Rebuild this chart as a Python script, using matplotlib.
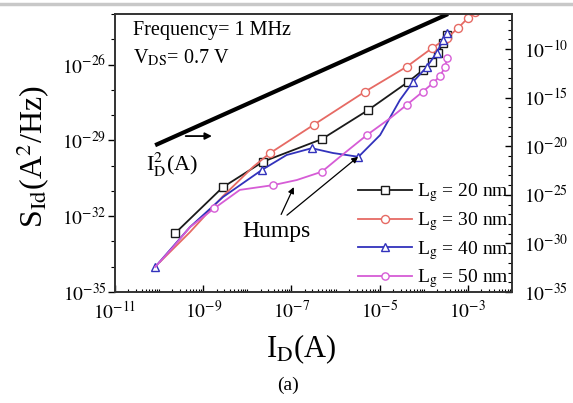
import numpy as np
import matplotlib
matplotlib.use("Agg")
import matplotlib.pyplot as plt
from matplotlib.ticker import FixedLocator, FuncFormatter, NullFormatter
from matplotlib.lines import Line2D

plt.rcParams['font.family'] = ['Liberation Serif', 'DejaVu Serif']
plt.rcParams['mathtext.fontset'] = 'stix'

# ---- data (log10 of values) ----
log_id_20 = [-9.64, -8.56, -7.64, -6.31, -5.26, -4.35, -4.02, -3.82, -3.68, -3.56, -3.48]
log_s_20 = [-32.68, -30.86, -29.84, -28.95, -27.80, -26.68, -26.22, -25.89, -25.54, -25.15, -24.83]

log_id_30 = [-9.98, -9.30, -8.57, -7.87, -7.49, -6.50, -5.33, -4.39, -3.82, -3.48, -3.22, -3.00, -2.84]
log_s_30 = [-33.81, -32.63, -31.24, -30.05, -29.51, -28.39, -27.07, -26.09, -25.36, -24.96, -24.55, -24.16, -23.92]

log_id_40 = [-10.09, -9.30, -8.55, -7.67, -7.11, -6.54, -6.06, -5.48, -4.99, -4.54, -4.24, -3.93, -3.71, -3.56, -3.48]
log_s_40 = [-34.01, -32.43, -31.24, -30.17, -29.58, -29.31, -29.50, -29.65, -28.79, -27.40, -26.68, -26.09, -25.54, -25.03, -24.76]

log_id_50 = [-10.09, -9.68, -9.30, -8.75, -8.17, -7.41, -6.88, -6.31, -5.90, -5.29, -4.76, -4.39, -4.02, -3.79, -3.63, -3.52, -3.47]
log_s_50 = [-34.01, -33.22, -32.43, -31.69, -30.96, -30.77, -30.57, -30.24, -29.65, -28.79, -28.12, -27.60, -27.07, -26.73, -26.45, -26.10, -25.74]

# I_D^2 reference line (right axis)
log_id_sq_x = [-10.09, -3.45]
log_id_sq_y = [-19.9, -6.4]

labels = ["20 nm", "30 nm", "40 nm", "50 nm"]

# ---- figure ----
W, H = 573, 403
fig = plt.figure(figsize=(W / 100, H / 100), dpi=100)
L, R, T, B = 115, 512, 14, 292
ax = fig.add_axes([L / W, 1 - B / H, (R - L) / W, (B - T) / H])
ax.set_xscale('log')
ax.set_yscale('log')
ax.set_xlim(1e-11, 1e-2)
ax.set_ylim(1e-35, 1e-24)

def p(a):
    return 10.0 ** np.array(a)

styles = [
    dict(color='#1a1a1a', marker='s', ms=5.8, markevery=None),
    dict(color='#e66a64', marker='o', ms=5.8, markevery=list(range(4, 13))),
    dict(color='#3232bc', marker='^', ms=5.8, markevery=[0, 3, 5, 7, 10, 11, 12, 13, 14]),
    dict(color='#d65cd6', marker='o', ms=5.2, markevery=[3, 5, 7, 9, 11, 12, 13, 14, 15, 16]),
]
data = [(log_id_20, log_s_20), (log_id_30, log_s_30), (log_id_40, log_s_40), (log_id_50, log_s_50)]
handles = []
for (xs, ys), st, lab in zip(data, styles, labels):
    h, = ax.plot(p(xs), p(ys), color=st['color'], lw=1.3, marker=st['marker'], ms=st['ms'],
                 mfc='white', mec=st['color'], mew=1.0, markevery=st['markevery'],
                 label=r"L$_{\mathrm{g}}$ = " + lab)
    handles.append(h)

def fmt(v, pos=None):
    e = int(round(np.log10(v)))
    return r"$10^{%d}$" % e

ax.xaxis.set_major_locator(FixedLocator(p([-11, -9, -7, -5, -3])))
ax.xaxis.set_major_formatter(FuncFormatter(fmt))
minor_x = []
for e in range(-11, -2):
    for s in range(1, 10):
        if s == 1 and e % 2 != 0:
            continue
        minor_x.append(s * 10.0 ** e)
ax.xaxis.set_minor_locator(FixedLocator(minor_x))
ax.xaxis.set_minor_formatter(NullFormatter())

ax.yaxis.set_major_locator(FixedLocator(p([-35, -32, -29, -26])))
ax.yaxis.set_major_formatter(FuncFormatter(fmt))
ax.yaxis.set_minor_locator(FixedLocator(p([e for e in range(-35, -23) if e not in (-35, -32, -29, -26)])))
ax.yaxis.set_minor_formatter(NullFormatter())

ax.tick_params(axis='x', which='both', direction='in', top=False, labelsize=14, pad=6)
ax.tick_params(axis='x', which='major', length=5, width=1)
ax.tick_params(axis='x', which='minor', length=2.5, width=0.8)
ax.tick_params(axis='y', which='both', direction='out', right=False, labelsize=14, pad=1)
ax.tick_params(axis='y', which='major', length=5, width=1)
ax.tick_params(axis='y', which='minor', length=3, width=0.8)
for s in ax.spines.values():
    s.set_linewidth(1.2)
    s.set_color('#333333')

# right axis
ax2 = ax.twinx()
ax2.set_yscale('log')
ax2.set_ylim(1e-35, 10 ** -6.4)
ax2.plot(p(log_id_sq_x), p(log_id_sq_y), color='black', lw=3.0, solid_capstyle='butt')
ax2.yaxis.set_major_locator(FixedLocator(p([-35, -30, -25, -20, -15, -10])))
ax2.yaxis.set_major_formatter(FuncFormatter(fmt))
ax2.yaxis.set_minor_locator(FixedLocator(p([e for e in range(-35, -6) if e % 5 != 0])))
ax2.yaxis.set_minor_formatter(NullFormatter())
ax2.tick_params(axis='y', which='both', direction='in', labelsize=14, pad=9)
ax2.tick_params(axis='y', which='major', length=5, width=1)
ax2.tick_params(axis='y', which='minor', length=3, width=0.8)
for s in ax2.spines.values():
    s.set_linewidth(1.2)
    s.set_color('#333333')

# axis labels
ax.set_xlabel(r"I$_{\mathrm{D}}$(A)", fontsize=22)
ax.xaxis.set_label_coords((301 - L) / (R - L), (B - 332) / (B - T))
ax.set_ylabel(r"S$_{\mathrm{Id}}$(A$^{2}$/Hz)", fontsize=23)
ax.yaxis.set_label_coords((52 - L) / (R - L), (B - 157) / (B - T))
fig.text(288 / W, 1 - 385 / H, "(a)", ha='center', va='center', fontsize=14)

# annotations
ax.text(10 ** -10.6, 10 ** -24.65, "Frequency= 1 MHz", fontsize=14.5, ha='left', va='center')
ax.text(10 ** -10.6, 10 ** -25.75, r"V$_{\mathrm{DS}}$= 0.7 V", fontsize=14.5, ha='left', va='center')
ax.text(10 ** -9.71, 10 ** -29.98, r"I$_{\mathrm{D}}^{2}$(A)", fontsize=16, ha='center', va='center')
ax.annotate("", xy=(10 ** -8.74, 10 ** -28.83), xytext=(10 ** -9.46, 10 ** -28.83),
            arrowprops=dict(arrowstyle='-|>', color='black', lw=1.3, mutation_scale=10))
ax.text(10 ** -7.33, 10 ** -32.61, "Humps", fontsize=17, ha='center', va='center')
ax.annotate("", xy=(10 ** -6.92, 10 ** -30.75), xytext=(10 ** -7.26, 10 ** -32.03),
            arrowprops=dict(arrowstyle='-|>', color='black', lw=0.9, mutation_scale=9))
ax.annotate("", xy=(10 ** -5.44, 10 ** -29.58), xytext=(10 ** -7.15, 10 ** -32.03),
            arrowprops=dict(arrowstyle='-|>', color='black', lw=0.9, mutation_scale=9))

leg = ax.legend(handles=handles, loc='lower right', bbox_to_anchor=(1.0, -0.005), frameon=False,
                fontsize=14, handlelength=2.8, handletextpad=0.25, labelspacing=0.3,
                borderpad=0.0, borderaxespad=0.15)

# grey border line at the very top of the picture
fig.add_artist(Line2D([0, 1], [1 - 4 / H, 1 - 4 / H], color='#c8c8c8', lw=2.5))

fig.savefig("out.png", dpi=100)
